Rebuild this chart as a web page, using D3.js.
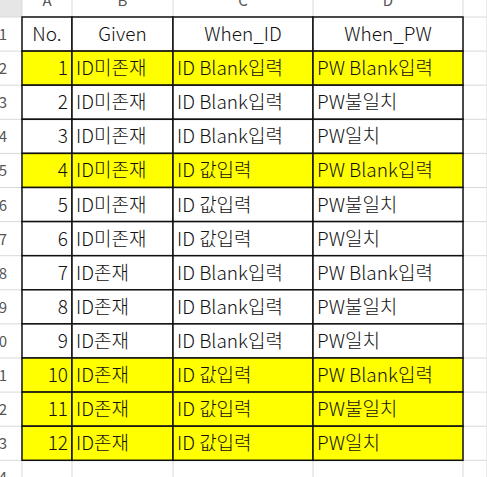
<!DOCTYPE html>
<html><head><meta charset="utf-8">
<script src="https://cdn.jsdelivr.net/npm/d3@7"></script>
<style>body{margin:0;background:#fff;overflow:hidden}</style>
</head><body>
<svg id="chart" width="487" height="477"></svg>
<script>
var headers = ["No.", "Given", "When_ID", "When_PW"];
var nos = [1,2,3,4,5,6,7,8,9,10,11,12];
var given = ["ID미존재","ID미존재","ID미존재","ID미존재","ID미존재","ID미존재","ID존재","ID존재","ID존재","ID존재","ID존재","ID존재"];
var whenId = ["ID Blank입력","ID Blank입력","ID Blank입력","ID 값입력","ID 값입력","ID 값입력","ID Blank입력","ID Blank입력","ID Blank입력","ID 값입력","ID 값입력","ID 값입력"];
var whenPw = ["PW Blank입력","PW불일치","PW일치","PW Blank입력","PW불일치","PW일치","PW Blank입력","PW불일치","PW일치","PW Blank입력","PW불일치","PW일치"];
var highlighted = [1,4,10,11,12];
var colLetters = ["A","B","C","D"];

var svg = d3.select("#chart");
var font = "'Noto Sans CJK KR', 'Noto Sans', sans-serif";
var colEdges = [22, 72, 173, 313, 463];
var y = d3.scaleBand().domain(d3.range(14)).range([17, 17 + 34.1 * 14]);

// spreadsheet grid
svg.append("rect").attr("x",0).attr("y",0).attr("width",22).attr("height",17).attr("fill","#e6e6e6");
colEdges.concat([487]).forEach(function(x){
  svg.append("line").attr("x1",x).attr("x2",x).attr("y1",0).attr("y2",477).attr("stroke","#d9d9d9");
});
d3.range(15).forEach(function(i){
  var yy = 17 + 34.1 * i;
  svg.append("line").attr("x1",0).attr("x2",487).attr("y1",yy).attr("y2",yy).attr("stroke","#d9d9d9");
});
// column letters (cut off at top, as in the screenshot)
colLetters.forEach(function(c,i){
  svg.append("text").attr("x",(colEdges[i]+colEdges[i+1])/2).attr("y",6)
    .attr("text-anchor","middle").attr("font-family",font).attr("font-size",15).attr("fill","#555").text(c);
});
// row numbers (cut off at left)
d3.range(14).forEach(function(i){
  svg.append("text").attr("x",7).attr("y",y(i)+y.bandwidth()/2+6)
    .attr("text-anchor","end").attr("font-family",font).attr("font-size",15).attr("fill","#555").text(i+1);
});

var rows = [headers].concat(nos.map(function(n,i){return [n, given[i], whenId[i], whenPw[i]];}));
rows.forEach(function(r,ri){
  var hl = ri > 0 && highlighted.indexOf(nos[ri-1]) >= 0;
  r.forEach(function(v,ci){
    var x0 = colEdges[ci], x1 = colEdges[ci+1];
    svg.append("rect").attr("x",x0).attr("y",y(ri))
      .attr("width",x1-x0).attr("height",y.bandwidth())
      .attr("fill", hl ? "#ffff00" : "#fff").attr("stroke","#111").attr("stroke-width",1.5);
    var t = svg.append("text").attr("y",y(ri)+y.bandwidth()/2+7)
      .attr("font-family",font).attr("font-size",19).attr("font-weight",300).attr("fill","#111").text(v);
    if (ri === 0) t.attr("x",(x0+x1)/2).attr("text-anchor","middle");
    else if (ci === 0) t.attr("x",x1-4).attr("text-anchor","end");
    else t.attr("x",x0+4);
  });
});
</script>
</body></html>
